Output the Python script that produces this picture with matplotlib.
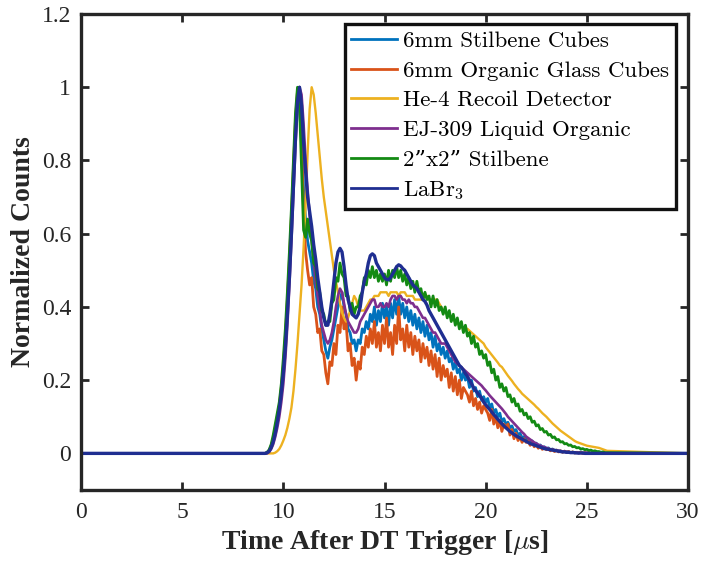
import numpy as np
import matplotlib
matplotlib.use("Agg")
import matplotlib.pyplot as plt

plt.rcParams['mathtext.fontset'] = 'cm'

# sampled time grid (x positions) 9.0 .. 26.0 step 0.1
t_grid = np.round(np.arange(9.0, 26.05, 0.1), 2)

stilbene_cubes = [
    0, 0, 0.002, 0.008, 0.02, 0.04, 0.065, 0.095, 0.125, 0.17,
    0.23, 0.31, 0.40, 0.51, 0.63, 0.76, 0.89, 0.98, 1.0, 0.88,
    0.72, 0.64, 0.58, 0.55, 0.52, 0.47, 0.45, 0.40, 0.38, 0.34,
    0.31, 0.28, 0.26, 0.29, 0.31, 0.34, 0.37, 0.40, 0.42, 0.44,
    0.40, 0.38, 0.34, 0.33, 0.30, 0.31, 0.28, 0.31, 0.30, 0.34,
    0.33, 0.36, 0.34, 0.38, 0.36, 0.40, 0.35, 0.39, 0.36, 0.41,
    0.37, 0.40, 0.35, 0.41, 0.37, 0.42, 0.38, 0.43, 0.38, 0.41,
    0.37, 0.40, 0.36, 0.39, 0.35, 0.38, 0.34, 0.37, 0.33, 0.36,
    0.32, 0.35, 0.31, 0.33, 0.29, 0.32, 0.28, 0.30, 0.27, 0.29,
    0.26, 0.28, 0.25, 0.26, 0.23, 0.25, 0.22, 0.23, 0.20, 0.22,
    0.20, 0.21, 0.18, 0.20, 0.17, 0.18, 0.155, 0.17, 0.145, 0.155,
    0.14, 0.15, 0.125, 0.135, 0.11, 0.12, 0.10, 0.11, 0.085, 0.095,
    0.08, 0.085, 0.07, 0.075, 0.06, 0.065, 0.05, 0.055, 0.042, 0.046,
    0.038, 0.04, 0.03, 0.034, 0.025, 0.028, 0.02, 0.023, 0.016, 0.018,
    0.013, 0.015, 0.01, 0.012, 0.008, 0.009, 0.006, 0.007, 0.004, 0.006,
    0.003, 0.005, 0.002, 0.004, 0.001, 0.003, 0.001, 0.004, 0.0, 0.002,
    0.001, 0.003, 0.0, 0.002, 0.0, 0.001, 0.0, 0.003, 0.0, 0.001,
    0.0]

organic_glass = [
    0, 0, 0.002, 0.008, 0.02, 0.04, 0.07, 0.10, 0.13, 0.18,
    0.24, 0.32, 0.42, 0.53, 0.65, 0.78, 0.91, 0.99, 1.0, 0.85,
    0.66, 0.55, 0.50, 0.46, 0.48, 0.40, 0.38, 0.33, 0.34, 0.28,
    0.27, 0.22, 0.19, 0.25, 0.24, 0.30, 0.27, 0.35, 0.33, 0.40,
    0.34, 0.36, 0.28, 0.30, 0.24, 0.26, 0.20, 0.25, 0.23, 0.29,
    0.27, 0.32, 0.29, 0.34, 0.30, 0.36, 0.29, 0.33, 0.28, 0.35,
    0.30, 0.37, 0.29, 0.33, 0.27, 0.35, 0.30, 0.40, 0.31, 0.34,
    0.28, 0.35, 0.29, 0.33, 0.27, 0.32, 0.28, 0.31, 0.25, 0.30,
    0.26, 0.29, 0.24, 0.28, 0.23, 0.27, 0.21, 0.26, 0.20, 0.24,
    0.21, 0.23, 0.18, 0.22, 0.17, 0.21, 0.16, 0.20, 0.15, 0.18,
    0.17, 0.16, 0.14, 0.17, 0.13, 0.15, 0.12, 0.14, 0.11, 0.13,
    0.12, 0.11, 0.09, 0.12, 0.08, 0.10, 0.07, 0.09, 0.06, 0.08,
    0.07, 0.08, 0.05, 0.065, 0.04, 0.055, 0.035, 0.045, 0.03, 0.04,
    0.03, 0.035, 0.022, 0.03, 0.018, 0.024, 0.014, 0.02, 0.011, 0.016,
    0.01, 0.013, 0.007, 0.011, 0.005, 0.009, 0.004, 0.007, 0.003, 0.006,
    0.003, 0.005, 0.002, 0.004, 0.001, 0.003, 0.001, 0.003, 0.0, 0.002,
    0.001, 0.002, 0.0, 0.003, 0.0, 0.001, 0.0, 0.002, 0.0, 0.001,
    0.0]

he4_recoil = [
    0, 0, 0, 0, 0, 0, 0.002, 0.006, 0.012, 0.022,
    0.035, 0.05, 0.07, 0.095, 0.125, 0.17, 0.23, 0.30, 0.38, 0.46,
    0.56, 0.68, 0.82, 0.94, 1.0, 0.98, 0.93, 0.87, 0.81, 0.75,
    0.70, 0.66, 0.62, 0.58, 0.54, 0.50, 0.47, 0.44, 0.41, 0.385,
    0.37, 0.36, 0.37, 0.39, 0.41, 0.43, 0.42, 0.40, 0.39, 0.39,
    0.39, 0.40, 0.41, 0.42, 0.42, 0.43, 0.43, 0.43, 0.44, 0.44,
    0.44, 0.44, 0.43, 0.44, 0.44, 0.44, 0.44, 0.43, 0.44, 0.44,
    0.44, 0.43, 0.43, 0.43, 0.43, 0.42, 0.42, 0.42, 0.42, 0.42,
    0.43, 0.43, 0.42, 0.42, 0.42, 0.42, 0.42, 0.41, 0.40, 0.39,
    0.385, 0.38, 0.375, 0.37, 0.365, 0.36, 0.355, 0.35, 0.345, 0.34,
    0.34, 0.34, 0.335, 0.33, 0.325, 0.32, 0.315, 0.31, 0.305, 0.30,
    0.29, 0.283, 0.276, 0.269, 0.262, 0.255, 0.248, 0.24, 0.236, 0.228,
    0.22, 0.212, 0.205, 0.198, 0.19, 0.183, 0.176, 0.17, 0.163, 0.158,
    0.153, 0.148, 0.143, 0.138, 0.133, 0.127, 0.122, 0.116, 0.11, 0.105,
    0.10, 0.094, 0.088, 0.082, 0.077, 0.072, 0.067, 0.062, 0.058, 0.054,
    0.05, 0.046, 0.042, 0.038, 0.034, 0.031, 0.029, 0.027, 0.025, 0.023,
    0.021, 0.02, 0.019, 0.018, 0.017, 0.016, 0.015, 0.013, 0.011, 0.009,
    0.007]

ej309 = [
    0, 0, 0.0, 0.004, 0.012, 0.025, 0.045, 0.07, 0.10, 0.14,
    0.19, 0.26, 0.35, 0.46, 0.58, 0.71, 0.84, 0.95, 1.0, 0.98,
    0.90, 0.80, 0.72, 0.65, 0.58, 0.52, 0.47, 0.43, 0.39, 0.35,
    0.33, 0.31, 0.30, 0.31, 0.33, 0.36, 0.40, 0.43, 0.45, 0.44,
    0.41, 0.38, 0.36, 0.35, 0.34, 0.33, 0.33, 0.34, 0.36, 0.37,
    0.38, 0.39, 0.40, 0.41, 0.42, 0.42, 0.40, 0.40, 0.41, 0.40,
    0.40, 0.41, 0.40, 0.42, 0.43, 0.43, 0.42, 0.43, 0.43, 0.42,
    0.42, 0.41, 0.42, 0.41, 0.41, 0.40, 0.40, 0.39, 0.38, 0.37,
    0.37, 0.36, 0.35, 0.34, 0.33, 0.33, 0.32, 0.31, 0.30, 0.30,
    0.30, 0.29, 0.28, 0.27, 0.26, 0.25, 0.245, 0.24, 0.235, 0.23,
    0.225, 0.22, 0.215, 0.21, 0.205, 0.20, 0.195, 0.19, 0.185, 0.178,
    0.172, 0.165, 0.158, 0.152, 0.146, 0.14, 0.134, 0.128, 0.122, 0.115,
    0.108, 0.10, 0.094, 0.088, 0.082, 0.076, 0.07, 0.064, 0.058, 0.053,
    0.046, 0.042, 0.038, 0.034, 0.03, 0.027, 0.024, 0.021, 0.019, 0.017,
    0.015, 0.013, 0.011, 0.01, 0.009, 0.008, 0.007, 0.006, 0.005, 0.004,
    0.004, 0.003, 0.003, 0.002, 0.002, 0.002, 0.001, 0.001, 0.001, 0.001,
    0.001, 0, 0, 0, 0, 0, 0, 0, 0, 0,
    0]

stilbene_2x2 = [
    0, 0, 0.003, 0.01, 0.025, 0.05, 0.08, 0.11, 0.14, 0.19,
    0.26, 0.34, 0.44, 0.55, 0.67, 0.80, 0.93, 1.0, 0.95, 0.78,
    0.61, 0.59, 0.64, 0.60, 0.58, 0.52, 0.51, 0.45, 0.44, 0.39,
    0.38, 0.35, 0.36, 0.36, 0.41, 0.42, 0.48, 0.47, 0.52, 0.49,
    0.48, 0.43, 0.43, 0.39, 0.41, 0.38, 0.40, 0.40, 0.43, 0.44,
    0.48, 0.46, 0.50, 0.48, 0.51, 0.48, 0.50, 0.47, 0.49, 0.47,
    0.49, 0.46, 0.50, 0.47, 0.50, 0.48, 0.51, 0.48, 0.50, 0.47,
    0.49, 0.46, 0.48, 0.45, 0.47, 0.44, 0.47, 0.44, 0.45, 0.42,
    0.44, 0.42, 0.43, 0.40, 0.43, 0.40, 0.42, 0.39, 0.40, 0.38,
    0.40, 0.37, 0.39, 0.36, 0.38, 0.35, 0.37, 0.34, 0.36, 0.33,
    0.35, 0.32, 0.33, 0.30, 0.32, 0.29, 0.30, 0.27, 0.28, 0.26,
    0.27, 0.24, 0.25, 0.22, 0.23, 0.20, 0.21, 0.18, 0.19, 0.17,
    0.18, 0.155, 0.16, 0.14, 0.15, 0.13, 0.135, 0.115, 0.12, 0.105,
    0.11, 0.095, 0.10, 0.085, 0.088, 0.075, 0.078, 0.065, 0.068, 0.058,
    0.06, 0.05, 0.052, 0.043, 0.045, 0.037, 0.038, 0.031, 0.032, 0.026,
    0.027, 0.022, 0.023, 0.018, 0.019, 0.015, 0.016, 0.012, 0.013, 0.010,
    0.011, 0.008, 0.009, 0.006, 0.007, 0.005, 0.005, 0.003, 0.004, 0.002,
    0.002]

labr3 = [
    0, 0, 0.002, 0.006, 0.016, 0.032, 0.055, 0.085, 0.12, 0.165,
    0.22, 0.29, 0.38, 0.48, 0.60, 0.73, 0.86, 0.96, 1.0, 0.95,
    0.85, 0.77, 0.70, 0.66, 0.62, 0.57, 0.53, 0.48, 0.44, 0.40,
    0.37, 0.35, 0.35, 0.38, 0.42, 0.47, 0.52, 0.55, 0.56, 0.55,
    0.51, 0.46, 0.42, 0.40, 0.38, 0.375, 0.37, 0.38, 0.40, 0.44,
    0.47, 0.49, 0.52, 0.54, 0.545, 0.54, 0.52, 0.51, 0.50, 0.49,
    0.48, 0.475, 0.474, 0.48, 0.49, 0.50, 0.51, 0.515, 0.512, 0.505,
    0.50, 0.49, 0.48, 0.47, 0.46, 0.455, 0.45, 0.44, 0.43, 0.42,
    0.415, 0.405, 0.39, 0.38, 0.37, 0.36, 0.35, 0.34, 0.33, 0.32,
    0.31, 0.30, 0.29, 0.28, 0.27, 0.26, 0.25, 0.24, 0.235, 0.227,
    0.218, 0.21, 0.20, 0.19, 0.18, 0.172, 0.165, 0.158, 0.15, 0.14,
    0.133, 0.126, 0.12, 0.113, 0.106, 0.10, 0.093, 0.087, 0.081, 0.075,
    0.07, 0.065, 0.06, 0.056, 0.052, 0.048, 0.045, 0.042, 0.039, 0.036,
    0.033, 0.03, 0.027, 0.025, 0.023, 0.021, 0.019, 0.017, 0.015, 0.013,
    0.012, 0.011, 0.01, 0.009, 0.008, 0.007, 0.006, 0.005, 0.004, 0.004,
    0.003, 0.003, 0.002, 0.002, 0.002, 0.001, 0.001, 0.001, 0.001, 0.0,
    0, 0, 0, 0, 0, 0, 0, 0, 0, 0,
    0]

series_labels = ['6mm Stilbene Cubes', '6mm Organic Glass Cubes',
                 'He-4 Recoil Detector', 'EJ-309 Liquid Organic',
                 '2\u201dx2\u201d Stilbene', 'LaBr$_3$']
series_values = [stilbene_cubes, organic_glass, he4_recoil, ej309,
                 stilbene_2x2, labr3]
colors = ['#0072BD', '#D95319', '#EDB120', '#7E2F8E', '#138A13', '#1F2E91']
widths = [2.0, 2.0, 1.7, 1.9, 2.0, 2.4]

xticks = [0, 5, 10, 15, 20, 25, 30]
yticks = [0, 0.2, 0.4, 0.6, 0.8, 1.0, 1.2]
ytick_labels = ['0', '0.2', '0.4', '0.6', '0.8', '1', '1.2']

fig = plt.figure(figsize=(7.03, 5.63), dpi=100)
ax = fig.add_axes([81/703, 1-490/563, 607/703, 476/563])

for vals, lab, c, lw in zip(series_values, series_labels, colors, widths):
    x = np.concatenate([[0.0], t_grid, [30.0]])
    y = np.concatenate([[0.0], np.array(vals, dtype=float), [0.0]])
    ax.plot(x, y, color=c, lw=lw, label=lab)

ax.set_xlim(0, 30)
ax.set_ylim(-0.1, 1.2)
ax.set_xticks(xticks)
ax.set_yticks(yticks)
ax.set_yticklabels(ytick_labels)

serif = 'Liberation Serif'
for lbl in ax.get_xticklabels() + ax.get_yticklabels():
    lbl.set_fontfamily(serif)
    lbl.set_fontsize(17)
    lbl.set_color('#262626')

ax.tick_params(direction='in', length=6, width=2, top=True, right=True,
               color='#262626')
ax.tick_params(axis='x', pad=9)
ax.tick_params(axis='y', pad=7)
for sp in ax.spines.values():
    sp.set_linewidth(2.4)
    sp.set_color('#262626')

ax.set_xlabel(r'Time After DT Trigger [$\mu$s]', fontfamily=serif,
              fontweight='bold', fontsize=20, color='#262626', labelpad=3)
ax.set_ylabel('Normalized Counts', fontfamily=serif, fontweight='bold',
              fontsize=20, color='#262626', labelpad=4)

leg = ax.legend(loc='upper right', bbox_to_anchor=(0.980, 0.979),
                borderaxespad=0,
                prop={'family': ['cmr10', 'DejaVu Serif'], 'size': 16.5},
                handlelength=2.0, handletextpad=0.25, labelspacing=0.42,
                fancybox=False, framealpha=1, borderpad=0.3)
leg.get_frame().set_edgecolor('#111111')
leg.get_frame().set_linewidth(2.4)
for line in leg.get_lines():
    line.set_linewidth(2.0)

fig.savefig('out.png', dpi=100)
